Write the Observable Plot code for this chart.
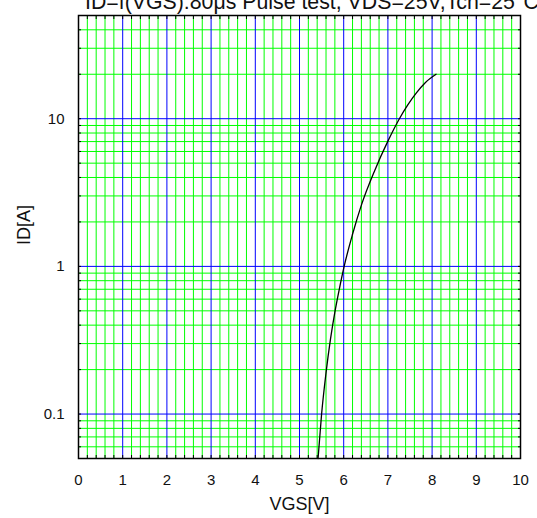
<!DOCTYPE html>
<html><head><meta charset="utf-8">
<script src="https://cdn.jsdelivr.net/npm/d3@7"></script>
<script src="https://cdn.jsdelivr.net/npm/@observablehq/plot@0.6"></script>
<style>
body{margin:0;background:#fff;overflow:hidden;width:537px;height:518px;position:relative;font-family:"Liberation Sans",Arial,sans-serif}
#title{position:absolute;left:85px;top:-9px;font-size:21.3px;line-height:22px;white-space:nowrap;color:#111}
#ylabel{position:absolute;left:24px;top:225px;font-size:18px;line-height:18px;white-space:nowrap;color:#111;transform:translate(-50%,-50%) rotate(-90deg)}
#chart{position:absolute;left:0;top:0}
</style></head><body>
<div id="chart"></div>
<div id="title"></div>
<div id="ylabel"></div>
<script>
const titleText = "ID=f(VGS):80μs Pulse test, VDS=25V,Tch=25°C";
const xLabel = "VGS[V]";
const yLabel = "ID[A]";
const vgs = [5.42, 5.50, 5.60, 5.70, 5.80, 5.90, 6.01, 6.20, 6.40, 6.70, 7.00, 7.26, 7.45, 7.64, 7.85, 8.09];
const idA = [0.05, 0.1, 0.19, 0.32, 0.49, 0.70, 1.0, 1.65, 2.6, 4.45, 7.05, 10, 12.4, 14.9, 17.6, 20];
const xTicks = [0,1,2,3,4,5,6,7,8,9,10];
const xMinor = [0.2,0.4,0.6,0.8,1.2,1.4,1.6,1.8,2.2,2.4,2.6,2.8,3.2,3.4,3.6,3.8,4.2,4.4,4.6,4.8,
                5.2,5.4,5.6,5.8,6.2,6.4,6.6,6.8,7.2,7.4,7.6,7.8,8.2,8.4,8.6,8.8,9.2,9.4,9.6,9.8];
const yMajor = [0.1, 1, 10];
const yTickLabels = ["0.1", "1", "10"];
const yMinor = [0.05,0.06,0.07,0.08,0.09,0.2,0.3,0.4,0.5,0.6,0.7,0.8,0.9,2,3,4,5,6,7,8,9,20,30,40];

document.getElementById("title").textContent = titleText;
document.getElementById("ylabel").textContent = yLabel;
const curveData = vgs.map((v, i) => ({vgs: v, id: idA[i]}));
const font = '"Liberation Sans", Arial, sans-serif';

const plot = Plot.plot({
  width: 537, height: 518,
  marginLeft: 78, marginRight: 17, marginTop: 15, marginBottom: 60,
  style: {fontFamily: font, fontSize: "15px", background: "#fff", color: "#111", overflow: "visible"},
  x: {domain: [0, 10]},
  y: {type: "log", domain: [0.05, 50]},
  marks: [
    Plot.ruleX(xMinor, {stroke: "#00ff00", strokeWidth: 1}),
    Plot.ruleY(yMinor, {stroke: "#00ff00", strokeWidth: 1}),
    Plot.ruleX(xTicks, {stroke: "#0000ff", strokeWidth: 1}),
    Plot.ruleY(yMajor, {stroke: "#0000ff", strokeWidth: 1}),
    Plot.line(curveData, {x: "vgs", y: "id", stroke: "#000", strokeWidth: 1.3, curve: "monotone-x"}),
    Plot.axisX([...xTicks, ...xMinor], {anchor: "bottom", tickSize: -3, text: null, label: null, stroke: "#000"}),
    Plot.axisX([...xTicks, ...xMinor], {anchor: "top", tickSize: -3, text: null, label: null, stroke: "#000"}),
    Plot.axisY([...yMajor, ...yMinor], {anchor: "left", tickSize: -3, text: null, label: null, stroke: "#000"}),
    Plot.axisY([...yMajor, ...yMinor], {anchor: "right", tickSize: -3, text: null, label: null, stroke: "#000"}),
    Plot.frame({stroke: "#000", strokeWidth: 1.5}),
    Plot.axisX(xTicks, {anchor: "bottom", tickSize: 0, tickPadding: 16, tickFormat: d => String(d), label: null, fontSize: 15}),
    Plot.axisY(yMajor, {anchor: "left", tickSize: 0, tickPadding: 14, tickFormat: d => yTickLabels[yMajor.indexOf(d)], label: null, fontSize: 15}),
    Plot.text([xLabel], {frameAnchor: "bottom", dy: 39, lineAnchor: "top", text: d => d, fontSize: 18, fill: "#111"})
  ]
});
document.getElementById("chart").appendChild(plot);
</script>
</body></html>
